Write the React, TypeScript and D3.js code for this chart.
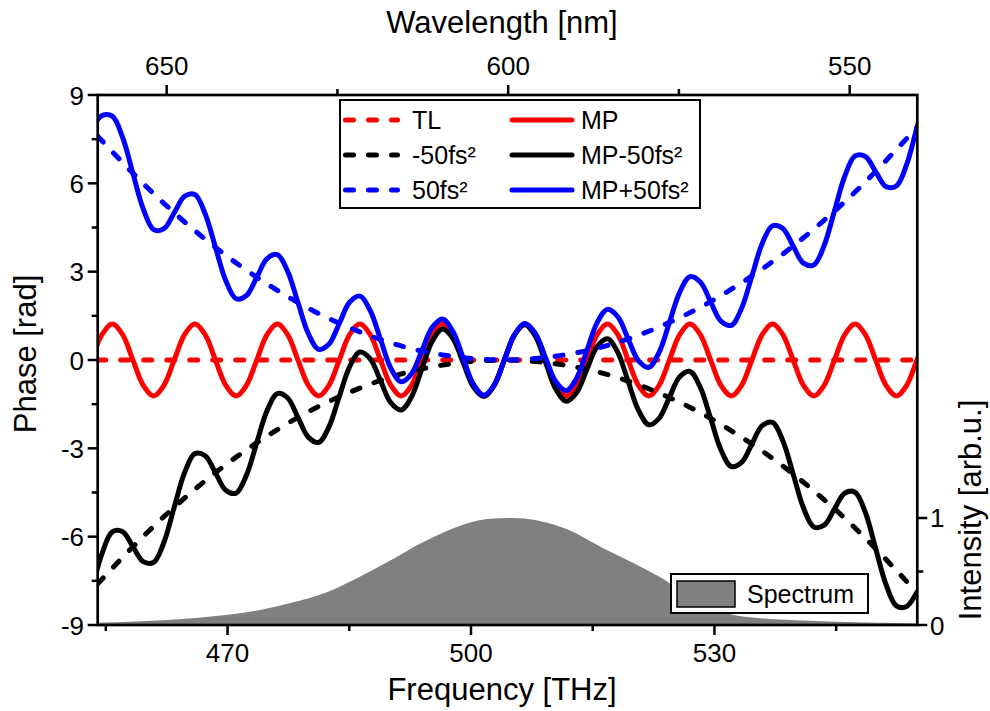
import React from 'react';
import * as d3 from 'd3';

const WIDTH = 990;
const HEIGHT = 711;
const PLOT = { left: 97.7, right: 917.3, top: 95, bottom: 625 };
const FONT = "'Liberation Sans', Arial, Helvetica, sans-serif";

// Axes
const freqDomain = [454, 555];
const wavelengthDomain = [660.1, 540.1];
const phaseDomain = [-9, 9];
const intensityDomain = [0, 4.953];

const freqMajorTicks = [470, 500, 530];
const freqMinorTicks = [455, 485, 515, 545];
const wavelengthMajorTicks = [650, 600, 550];
const wavelengthMinorTicks = [625, 575];
const phaseMajorTicks = [-9, -6, -3, 0, 3, 6, 9];
const phaseMinorTicks = [-7.5, -4.5, -1.5, 1.5, 4.5, 7.5];
const intensityMajorTicks = [0, 1];
const intensityMinorTicks = [0.5];

// Phase curves (solid): frequency grid [THz] and phases [rad]
const phaseFreq = [
  453.26, 454.53, 455.8, 457.07, 458.34, 459.61, 460.89, 462.16, 463.43, 464.7,
  465.97, 467.24, 468.51, 469.78, 471.06, 472.33, 473.6, 474.87, 476.14, 477.41,
  478.68, 479.95, 481.23, 482.5, 483.77, 485.04, 486.31, 487.58, 488.85, 490.12,
  491.4, 492.67, 493.94, 495.21, 496.48, 497.75, 499.02, 500.29, 501.57, 502.84,
  504.11, 505.38, 506.65, 507.92, 509.19, 510.46, 511.74, 513.01, 514.28, 515.55,
  516.82, 518.09, 519.36, 520.63, 521.91, 523.18, 524.45, 525.72, 526.99, 528.26,
  529.53, 530.8, 532.08, 533.35, 534.62, 535.89, 537.16, 538.43, 539.7, 540.97,
  542.25, 543.52, 544.79, 546.06, 547.33, 548.6, 549.87, 551.14, 552.42, 553.69,
  554.96, 556.23,
];
const mpPhase = [
  0, 0.86, 1.22, 0.86, 0, -0.86, -1.22, -0.86, 0, 0.86,
  1.22, 0.86, 0, -0.86, -1.22, -0.86, 0, 0.86, 1.22, 0.86,
  0, -0.86, -1.22, -0.86, 0, 0.86, 1.22, 0.86, 0, -0.86,
  -1.22, -0.86, 0, 0.86, 1.22, 0.86, 0, -0.86, -1.22, -0.86,
  0, 0.86, 1.22, 0.86, 0, -0.86, -1.22, -0.86, 0, 0.86,
  1.22, 0.86, 0, -0.86, -1.22, -0.86, 0, 0.86, 1.22, 0.86,
  0, -0.86, -1.22, -0.86, 0, 0.86, 1.22, 0.86, 0, -0.86,
  -1.22, -0.86, 0, 0.86, 1.22, 0.86, 0, -0.86, -1.22, -0.86,
  0, 0.86,
];
const mpMinus50Phase = [
  -7.83, -6.58, -5.84, -5.83, -6.34, -6.85, -6.87, -6.19, -5.0, -3.83,
  -3.18, -3.25, -3.83, -4.42, -4.52, -3.91, -2.81, -1.72, -1.14, -1.29,
  -1.95, -2.62, -2.8, -2.27, -1.24, -0.23, 0.27, 0.04, -0.7, -1.45,
  -1.7, -1.25, -0.31, 0.63, 1.05, 0.74, -0.08, -0.91, -1.24, -0.87,
  0.0, 0.86, 1.2, 0.82, -0.08, -0.99, -1.4, -1.11, -0.32, 0.46,
  0.72, 0.26, -0.72, -1.7, -2.2, -1.98, -1.27, -0.57, -0.39, -0.93,
  -1.98, -3.05, -3.62, -3.48, -2.85, -2.23, -2.12, -2.74, -3.87, -5.02,
  -5.67, -5.61, -5.06, -4.52, -4.49, -5.18, -6.4, -7.62, -8.35, -8.37,
  -7.9, -7.43,
];
const mpPlus50Phase = [
  7.83, 8.3, 8.28, 7.56, 6.34, 5.13, 4.43, 4.46, 5.0, 5.56,
  5.62, 4.97, 3.83, 2.7, 2.08, 2.19, 2.81, 3.44, 3.58, 3.01,
  1.95, 0.9, 0.36, 0.54, 1.24, 1.96, 2.17, 1.68, 0.7, -0.28,
  -0.74, -0.47, 0.31, 1.1, 1.39, 0.98, 0.08, -0.82, -1.2, -0.86,
  0.0, 0.87, 1.24, 0.91, 0.08, -0.74, -1.04, -0.62, 0.32, 1.27,
  1.72, 1.47, 0.72, -0.02, -0.25, 0.26, 1.27, 2.3, 2.83, 2.65,
  1.98, 1.32, 1.18, 1.76, 2.85, 3.96, 4.56, 4.47, 3.87, 3.29,
  3.23, 3.89, 5.06, 6.24, 6.93, 6.91, 6.4, 5.89, 5.91, 6.64,
  7.9, 9.16,
];

// Phase curves (dashed): pure chirp phases
const chirpFreq = [454, 459, 464, 469, 474, 479, 484, 489, 494, 499, 504, 509, 514, 519, 524, 529, 534, 539, 544, 549, 555];
const minus50Phase = [-7.6, -6.16, -4.86, -3.72, -2.74, -1.9, -1.22, -0.68, -0.3, -0.08, 0, -0.08, -0.3, -0.68, -1.22, -1.9, -2.74, -3.72, -4.86, -6.16, -7.91];
const plus50Phase = [7.6, 6.16, 4.86, 3.72, 2.74, 1.9, 1.22, 0.68, 0.3, 0.08, 0, 0.08, 0.3, 0.68, 1.22, 1.9, 2.74, 3.72, 4.86, 6.16, 7.91];
const tlFreq = [454, 555];
const tlPhase = [0, 0];

// Spectrum (right axis)
const spectrumFreq = [454, 458, 462, 466, 470, 474, 478, 482, 486, 490, 494, 498, 502, 505, 508, 512, 516, 520, 523, 526, 529, 532, 536, 540, 545, 550, 555];
const spectrumIntensity = [0.02, 0.03, 0.045, 0.065, 0.095, 0.14, 0.21, 0.3, 0.44, 0.6, 0.77, 0.91, 0.99, 1.0, 0.98, 0.89, 0.73, 0.58, 0.46, 0.32, 0.19, 0.1, 0.06, 0.045, 0.03, 0.02, 0.015];

const legendLabels = ['TL', 'MP', '-50fs²', 'MP-50fs²', '50fs²', 'MP+50fs²'];
const seriesColors = ['#ff0000', '#000000', '#0000ff'];

const zip = (xs: number[], ys: number[]): [number, number][] => xs.map((v, i) => [v, ys[i]]);

export default function App() {
  const x = d3.scaleLinear().domain(freqDomain).range([PLOT.left, PLOT.right]);
  const xTop = d3.scaleLinear().domain(wavelengthDomain).range([PLOT.left, PLOT.right]);
  const y = d3.scaleLinear().domain(phaseDomain).range([PLOT.bottom, PLOT.top]);
  const yR = d3.scaleLinear().domain(intensityDomain).range([PLOT.bottom, PLOT.top]);

  const solid = d3.line<[number, number]>().x(d => x(d[0])).y(d => y(d[1])).curve(d3.curveCatmullRom.alpha(0.5));
  const smooth = d3.line<[number, number]>().x(d => x(d[0])).y(d => y(d[1])).curve(d3.curveNatural);
  const area = d3.area<[number, number]>().x(d => x(d[0])).y0(yR(0)).y1(d => yR(d[1])).curve(d3.curveMonotoneX);

  const dash = '8 15';
  const lw = 5;

  const curves = [
    { d: smooth(zip(tlFreq, tlPhase)), color: seriesColors[0], dashed: true },
    { d: solid(zip(phaseFreq, mpPhase)), color: seriesColors[0], dashed: false },
    { d: smooth(zip(chirpFreq, minus50Phase)), color: seriesColors[1], dashed: true },
    { d: solid(zip(phaseFreq, mpMinus50Phase)), color: seriesColors[1], dashed: false },
    { d: smooth(zip(chirpFreq, plus50Phase)), color: seriesColors[2], dashed: true },
    { d: solid(zip(phaseFreq, mpPlus50Phase)), color: seriesColors[2], dashed: false },
  ];

  const tickFont = 26;
  const titleFont = 31;
  const legendFont = 25;

  const legendRows = [0, 1, 2];
  const legX = 340, legY = 100, legW = 360, legH = 108;

  return (
    <svg width={WIDTH} height={HEIGHT} style={{ position: 'absolute', left: 0, top: 0, background: '#fff' }} fontFamily={FONT}>
      <defs>
        <clipPath id="plotClip">
          <rect x={PLOT.left} y={PLOT.top} width={PLOT.right - PLOT.left} height={PLOT.bottom - PLOT.top} />
        </clipPath>
      </defs>
      <rect x={0} y={0} width={WIDTH} height={HEIGHT} fill="#fff" />
      <g clipPath="url(#plotClip)">
        <path d={area(zip(spectrumFreq, spectrumIntensity)) || ''} fill="#808080" />
        {curves.map((c, i) => (
          <path key={i} d={c.d || ''} fill="none" stroke={c.color} strokeWidth={lw}
            strokeDasharray={c.dashed ? dash : undefined} strokeLinecap="round" strokeLinejoin="round" />
        ))}
      </g>

      {/* Legend */}
      <rect x={legX} y={legY} width={legW} height={legH} fill="#fff" stroke="#000" strokeWidth={2} />
      {legendRows.map(r => {
        const ly = 120 + r * 35;
        return (
          <g key={r}>
            <line x1={345.5} x2={397.5} y1={ly} y2={ly} stroke={seriesColors[r]} strokeWidth={lw} strokeDasharray={dash} strokeLinecap="round" />
            <text x={412} y={ly + 9} fontSize={legendFont}>{legendLabels[r * 2]}</text>
            <line x1={512} x2={572} y1={ly} y2={ly} stroke={seriesColors[r]} strokeWidth={lw} strokeLinecap="round" />
            <text x={581} y={ly + 9} fontSize={legendFont}>{legendLabels[r * 2 + 1]}</text>
          </g>
        );
      })}

      {/* Spectrum legend */}
      <rect x={671} y={574} width={197} height={39} fill="#fff" stroke="#000" strokeWidth={2} />
      <rect x={677} y={581} width={58} height={26} fill="#808080" stroke="#000" strokeWidth={1.5} />
      <text x={747} y={603} fontSize={legendFont}>Spectrum</text>

      {/* Bottom axis */}
      {freqMajorTicks.map(t => (
        <g key={'fb' + t}>
          <line x1={x(t)} x2={x(t)} y1={PLOT.bottom} y2={PLOT.bottom + 10} stroke="#000" strokeWidth={2.5} />
          <text x={x(t)} y={662} fontSize={tickFont} textAnchor="middle">{t}</text>
        </g>
      ))}
      {freqMinorTicks.map(t => (
        <line key={'fbm' + t} x1={x(t)} x2={x(t)} y1={PLOT.bottom} y2={PLOT.bottom + 6} stroke="#000" strokeWidth={2.5} />
      ))}
      <text x={502} y={700} fontSize={titleFont} textAnchor="middle">Frequency [THz]</text>

      {/* Top axis */}
      {wavelengthMajorTicks.map(t => (
        <g key={'wt' + t}>
          <line x1={xTop(t)} x2={xTop(t)} y1={PLOT.top} y2={PLOT.top - 10} stroke="#000" strokeWidth={2.5} />
          <text x={xTop(t)} y={75} fontSize={tickFont} textAnchor="middle">{t}</text>
        </g>
      ))}
      {wavelengthMinorTicks.map(t => (
        <line key={'wtm' + t} x1={xTop(t)} x2={xTop(t)} y1={PLOT.top} y2={PLOT.top - 6} stroke="#000" strokeWidth={2.5} />
      ))}
      <text x={502} y={33} fontSize={titleFont} textAnchor="middle">Wavelength [nm]</text>

      {/* Left axis */}
      {phaseMajorTicks.map(t => (
        <g key={'pl' + t}>
          <line x1={PLOT.left} x2={PLOT.left - 10} y1={y(t)} y2={y(t)} stroke="#000" strokeWidth={2.5} />
          <text x={84} y={y(t) + 9.5} fontSize={tickFont} textAnchor="end">{t}</text>
        </g>
      ))}
      {phaseMinorTicks.map(t => (
        <line key={'plm' + t} x1={PLOT.left} x2={PLOT.left - 6} y1={y(t)} y2={y(t)} stroke="#000" strokeWidth={2.5} />
      ))}
      <text transform="translate(36,354) rotate(-90)" fontSize={titleFont} textAnchor="middle">Phase [rad]</text>

      {/* Right axis */}
      {intensityMajorTicks.map(t => (
        <g key={'ir' + t}>
          <line x1={PLOT.right} x2={PLOT.right + 10} y1={yR(t)} y2={yR(t)} stroke="#000" strokeWidth={2.5} />
          <text x={930} y={yR(t) + 9.5} fontSize={tickFont} textAnchor="start">{t}</text>
        </g>
      ))}
      {intensityMinorTicks.map(t => (
        <line key={'irm' + t} x1={PLOT.right} x2={PLOT.right + 6} y1={yR(t)} y2={yR(t)} stroke="#000" strokeWidth={2.5} />
      ))}
      <text transform="translate(981,510) rotate(-90)" fontSize={titleFont} textAnchor="middle">Intensity [arb.u.]</text>

      {/* Frame */}
      <rect x={PLOT.left} y={PLOT.top} width={PLOT.right - PLOT.left} height={PLOT.bottom - PLOT.top} fill="none" stroke="#000" strokeWidth={2.7} />
    </svg>
  );
}
